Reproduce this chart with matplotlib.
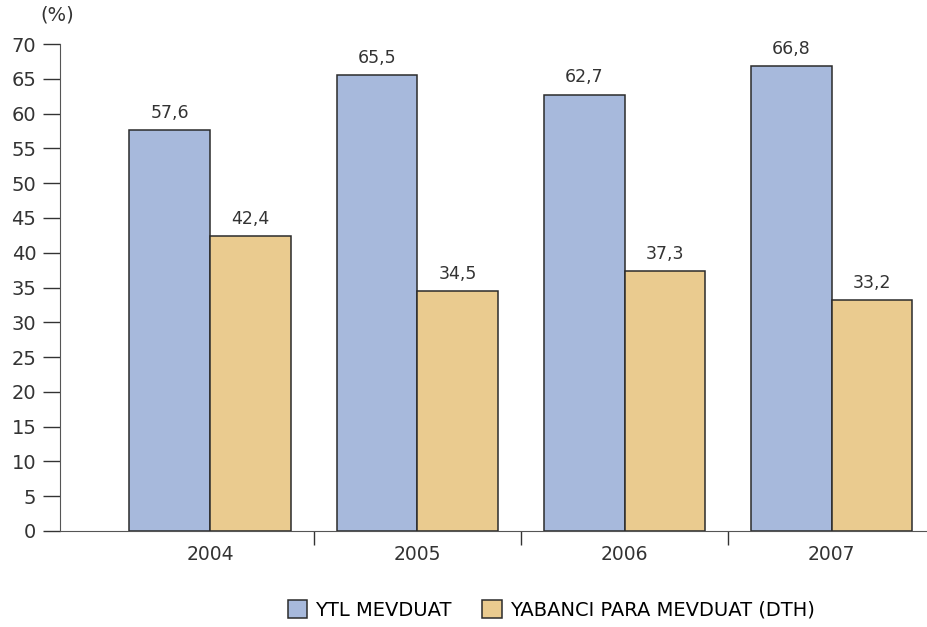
import matplotlib.pyplot as plt
import numpy as np

years = ["2004", "2005", "2006", "2007"]
ytl = [57.6, 65.5, 62.7, 66.8]
dth = [42.4, 34.5, 37.3, 33.2]
series_names = ["YTL MEVDUAT", "YABANCI PARA MEVDUAT (DTH)"]

plt.rcParams['font.family'] = ['DejaVu Sans']

fig = plt.figure(figsize=(9.27, 6.27), dpi=100)
ax = fig.add_axes([60/927, 96/627, 867/927, 487/627])

x = np.arange(len(years))
w = 0.39
b1 = ax.bar(x - w/2, ytl, w, color="#A7B9DC", edgecolor="#2b2b2b", linewidth=1.1, label=series_names[0])
b2 = ax.bar(x + w/2, dth, w, color="#EACB8F", edgecolor="#2b2b2b", linewidth=1.1, label=series_names[1])

for bars, vals in ((b1, ytl), (b2, dth)):
    for r, v in zip(bars, vals):
        ax.annotate(f"{v:.1f}".replace(".", ","), (r.get_x() + r.get_width()/2, v),
                    xytext=(0, 6), textcoords="offset points", ha="center", va="bottom",
                    fontsize=12.5, color="#333333")

ax.set_xlim(-0.725, 3.46)
ax.set_ylim(0, 70)
ax.set_yticks(range(0, 71, 5))
ax.tick_params(axis='y', labelsize=14, length=12, width=1, colors="#333333", pad=5)

ax.set_xticks(x)
ax.set_xticklabels(years)
ax.set_xticks([0.5, 1.5, 2.5], minor=True)
ax.tick_params(axis='x', which='major', length=0, labelsize=13.5, pad=10, colors="#333333")
ax.tick_params(axis='x', which='minor', length=10, width=1, color="#333333")

for s in ("top", "right"):
    ax.spines[s].set_visible(False)
for s in ("left", "bottom"):
    ax.spines[s].set_color("#555555")

fig.text(57/927, 1 - 15/627, "(%)", ha="center", va="center", fontsize=14, color="#333333")

fig.legend(handles=[b1, b2], loc="center", bbox_to_anchor=(551/927, 1 - 610/627), ncol=2,
           frameon=False, fontsize=14, handlelength=1.0, handleheight=1.0, columnspacing=1.6,
           handletextpad=0.4)

fig.savefig("out.png", dpi=100)
